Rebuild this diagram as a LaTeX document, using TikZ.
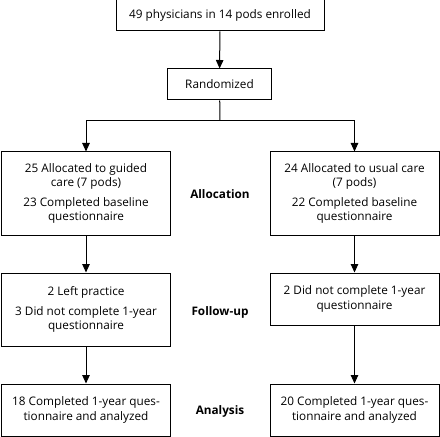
\documentclass[tikz,border=0pt]{standalone}
\usepackage{fontspec}
\setmainfont{Open Sans}
\usetikzlibrary{arrows.meta}
\begin{document}
\begin{tikzpicture}[x=1bp,y=-1bp,
  box/.style={draw,line width=1bp,align=center,inner sep=0pt,font=\fontsize{11.8}{14.3}\selectfont},
  lbl/.style={font=\fontsize{11.8}{14.3}\selectfont\bfseries},
  arr/.style={line width=1bp,-{Triangle[length=8.5bp,width=7.5bp]}},
  ln/.style={line width=1bp}]
\useasboundingbox (0,0) rectangle (440,437);
\node[box,minimum width=208bp,minimum height=31bp] (top) at (220,15.5) {49 physicians in 14 pods enrolled};
\node[box,minimum width=104bp,minimum height=31bp] (rand) at (219.5,84.5) {Randomized};
\node[box,minimum width=168bp,minimum height=83bp] (l1) at (86,193.5) {25 Allocated to guided\\care (7 pods)\\[5bp]23 Completed baseline\\questionnaire};
\node[box,minimum width=169bp,minimum height=83bp] (r1) at (354.5,193.5) {24 Allocated to usual care\\(7 pods)\\[5bp]22 Completed baseline\\questionnaire};
\node[box,minimum width=168bp,minimum height=73bp] (l2) at (86,309.5) {2 Left practice\\[5bp]3 Did not complete 1-year\\questionnaire};
\node[box,minimum width=169bp,minimum height=52bp] (r2) at (354.5,299) {2 Did not complete 1-year\\questionnaire};
\node[box,minimum width=168bp,minimum height=52bp] (l3) at (86,410) {18 Completed 1-year ques-\\tionnaire and analyzed};
\node[box,minimum width=169bp,minimum height=52bp] (r3) at (354.5,410) {20 Completed 1-year ques-\\tionnaire and analyzed};
\node[lbl] (alloc) at (220,194) {Allocation};
\node[lbl] (fu) at (220,312) {Follow-up};
\node[lbl] (an) at (220,411) {Analysis};
\coordinate (split) at (220,120.5);
\draw[arr] (top) -- (rand);
\draw[ln] (rand) -- (split);
\draw[arr] (split) -| (l1.north);
\draw[arr] (split) -| (r1.north);
\draw[arr] (l1) -- (l2);
\draw[arr] (r1) -- (r2);
\draw[arr] (l2) -- (l3);
\draw[arr] (r2) -- (r3);
\end{tikzpicture}
\end{document}
